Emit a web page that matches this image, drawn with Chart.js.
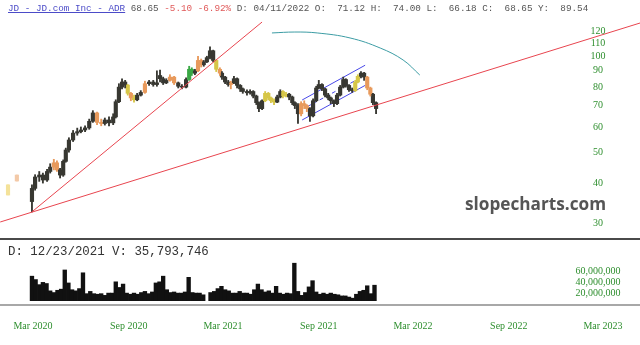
<!DOCTYPE html>
<html>
<head>
<meta charset="utf-8">
<script src="https://cdn.jsdelivr.net/npm/chart.js@4.4.1/dist/chart.umd.min.js"></script>
<style>
  body { margin: 0; background: #fff; }
  #page { position: relative; width: 640px; height: 345px; overflow: hidden; }
  #priceBox { position: absolute; left: 0; top: 0; width: 640px; height: 238px; }
  #volBox { position: absolute; left: 0; top: 242px; width: 640px; height: 103px; }
  .sep { position: absolute; left: 0; width: 640px; }
  #sep1 { top: 238px; height: 2px; background: #4a4a4a; }
  #sep2 { top: 304px; height: 2px; background: #a8a8a8; }
  #head { position: absolute; left: 8px; top: 3px; font: 9.3px "Liberation Mono", monospace; color: #555; white-space: pre; }
  #head .sym { color: #4b4bc8; text-decoration: underline; }
  #head .dn { color: #e05a5a; }
  #volHead { position: absolute; left: 8px; top: 245px; font: 12.4px "Liberation Mono", monospace; color: #333; white-space: pre; }
  #mark { position: absolute; left: 465px; top: 192px; font: bold 17.2px "Open Sans", sans-serif; color: #555; }
</style>
</head>
<body>
<div id="page">
  <div id="priceBox"><canvas id="priceChart"></canvas></div>
  <div id="volBox"><canvas id="volChart"></canvas></div>
  <div class="sep" id="sep1"></div>
  <div class="sep" id="sep2"></div>
  <div id="head"><span class="sym">JD - JD.com Inc - ADR</span> 68.65 <span class="dn">-5.10 -6.92%</span> D: 04/11/2022 O:  71.12 H:  74.00 L:  66.18 C:  68.65 Y:  89.54</div>
  <div id="volHead">D: 12/23/2021 V: 35,793,746</div>
  <div id="mark">slopecharts.com</div>
</div>
<script>
// x values are days counted from 1 Mar 2020
const candleDays = [-48, -31, -2, 4, 12, 19, 27, 33, 40, 46, 52, 58, 63, 69, 77, 85, 92, 100, 108, 115, 123, 131, 138, 146, 154, 159, 165, 171, 177, 182, 188, 194, 200, 207, 215, 223, 231, 238, 244, 250, 256, 263, 271, 279, 286, 294, 300, 305, 311, 317, 323, 328, 334, 340, 346, 352, 359, 363, 369, 375, 380, 386, 392, 398, 403, 411, 417, 423, 429, 434, 440, 446, 452, 457, 463, 469, 475, 480, 486, 492, 498, 503, 509, 515, 521, 526, 532, 538, 544, 549, 555, 561, 567, 572, 578, 584, 590, 596, 601, 607, 613, 619, 624, 630, 636, 642, 648, 653, 659];
const opens = [36.7, 40.6, 35.0, 38.5, 41.8, 42.4, 40.9, 43.5, 44.9, 46.3, 44.0, 42.4, 46.8, 50.8, 54.6, 57.4, 58.0, 58.7, 59.6, 62.5, 66.4, 62.0, 61.5, 63.1, 61.8, 64.5, 72.0, 80.0, 83.0, 81.2, 76.5, 74.0, 73.0, 75.5, 77.0, 82.0, 83.0, 81.5, 87.0, 85.0, 82.5, 84.0, 86.0, 82.5, 80.5, 80.0, 84.5, 91.0, 88.5, 90.0, 97.0, 94.0, 96.0, 99.0, 104.0, 97.0, 91.0, 88.5, 86.0, 83.0, 81.5, 82.5, 85.0, 81.0, 79.0, 77.5, 76.8, 77.5, 75.0, 71.5, 68.5, 72.5, 76.5, 74.0, 72.5, 71.8, 74.5, 77.5, 75.0, 76.0, 74.5, 71.5, 70.0, 66.0, 71.0, 70.0, 68.5, 65.0, 72.5, 79.5, 81.5, 79.0, 75.5, 74.0, 72.5, 71.0, 75.5, 80.0, 84.5, 81.0, 78.5, 78.0, 83.0, 86.5, 88.5, 86.0, 79.5, 76.0, 71.5];
const highs = [39.5, 42.4, 39.5, 42.5, 43.5, 43.0, 44.2, 46.0, 47.5, 47.0, 44.5, 47.3, 51.5, 55.5, 58.5, 59.5, 60.0, 60.5, 63.5, 67.5, 66.8, 63.5, 64.0, 64.5, 66.0, 73.0, 82.0, 85.0, 84.0, 81.5, 77.0, 75.5, 76.5, 78.0, 83.5, 84.0, 84.0, 90.0, 90.5, 86.0, 85.0, 87.5, 86.5, 83.0, 81.5, 85.5, 93.0, 92.0, 91.0, 100.0, 98.0, 97.0, 100.0, 107.0, 104.5, 97.5, 92.0, 89.5, 86.5, 84.0, 83.5, 86.5, 85.5, 81.5, 79.5, 78.5, 78.5, 78.0, 75.5, 72.0, 73.0, 77.5, 77.0, 74.5, 73.5, 75.5, 78.5, 78.0, 77.0, 76.5, 75.0, 72.0, 71.0, 72.0, 72.5, 70.5, 69.0, 73.5, 80.5, 84.0, 82.0, 79.5, 76.5, 74.5, 73.0, 76.5, 81.0, 86.0, 85.0, 81.5, 79.5, 84.0, 87.5, 89.5, 89.0, 86.5, 80.0, 76.5, 72.0];
const lows = [36.7, 40.6, 32.5, 38.0, 40.5, 40.0, 40.5, 43.0, 44.0, 43.5, 41.5, 42.0, 46.5, 50.0, 54.0, 56.5, 57.5, 58.0, 59.0, 62.0, 61.0, 60.5, 60.8, 60.5, 61.0, 64.0, 71.5, 79.0, 79.5, 75.5, 72.5, 71.8, 72.5, 75.0, 76.5, 81.0, 80.5, 80.5, 83.0, 81.5, 82.0, 83.5, 81.5, 79.5, 79.0, 79.5, 84.0, 87.0, 87.5, 89.5, 92.5, 93.0, 95.5, 98.0, 96.0, 89.5, 87.0, 84.5, 82.0, 80.5, 79.0, 82.0, 79.5, 77.5, 76.5, 75.5, 76.0, 74.0, 70.5, 67.0, 68.0, 72.0, 73.0, 71.5, 70.5, 71.5, 74.0, 74.0, 74.5, 73.0, 70.5, 68.5, 61.5, 65.0, 68.5, 67.0, 62.5, 64.5, 72.0, 79.0, 78.0, 74.5, 73.0, 71.0, 69.5, 70.5, 75.0, 79.5, 80.0, 77.5, 77.0, 77.5, 82.5, 85.5, 84.0, 78.5, 75.0, 70.5, 66.0];
const closes = [39.5, 42.4, 38.5, 41.8, 42.4, 40.9, 43.5, 44.9, 46.3, 44.0, 42.4, 46.8, 50.8, 54.6, 57.4, 58.0, 58.7, 59.6, 62.5, 66.4, 62.0, 61.5, 63.1, 61.8, 64.5, 72.0, 80.0, 83.0, 81.2, 76.5, 74.0, 73.0, 75.5, 77.0, 82.0, 83.0, 81.5, 82.5, 85.0, 82.5, 84.0, 86.0, 82.5, 80.5, 80.0, 84.5, 91.0, 88.5, 90.0, 97.0, 94.0, 96.0, 99.0, 104.0, 97.0, 91.0, 88.5, 86.0, 83.0, 81.5, 82.5, 85.0, 81.0, 79.0, 77.5, 76.8, 77.5, 75.0, 71.5, 68.5, 72.5, 76.5, 74.0, 72.5, 71.8, 74.5, 77.5, 75.0, 76.0, 74.5, 71.5, 70.0, 66.0, 71.0, 70.0, 68.5, 65.0, 72.5, 79.5, 81.5, 79.0, 75.5, 74.0, 72.5, 71.0, 75.5, 80.0, 84.5, 81.0, 78.5, 78.0, 83.0, 86.5, 88.5, 86.0, 79.5, 76.0, 71.5, 68.5];
// indicator tone of each candle: k plain, o orange, y yellow, g green, p/q faded
const signal = ["q", "p", "k", "k", "k", "k", "k", "k", "o", "o", "k", "k", "k", "k", "k", "k", "k", "k", "k", "k", "o", "o", "k", "k", "k", "k", "k", "k", "k", "y", "o", "y", "k", "k", "o", "k", "k", "k", "k", "k", "k", "o", "o", "k", "k", "k", "g", "g", "k", "o", "o", "k", "k", "k", "k", "y", "o", "k", "k", "k", "o", "k", "k", "k", "k", "k", "k", "k", "k", "k", "k", "y", "y", "y", "y", "k", "k", "y", "y", "k", "k", "k", "k", "o", "o", "o", "k", "k", "k", "k", "k", "k", "k", "k", "k", "k", "k", "k", "k", "k", "k", "y", "y", "k", "k", "o", "o", "k", "k"];

const volDays = [-2, 5, 12, 19, 26, 33, 40, 47, 54, 61, 68, 75, 82, 89, 96, 103, 110, 117, 124, 131, 138, 145, 152, 159, 166, 173, 180, 187, 194, 201, 208, 215, 222, 229, 236, 243, 250, 257, 264, 271, 278, 285, 292, 299, 306, 313, 320, 327, 334, 341, 348, 355, 362, 369, 376, 383, 390, 397, 404, 411, 418, 425, 432, 439, 446, 453, 460, 467, 474, 481, 488, 495, 502, 509, 516, 523, 530, 537, 544, 551, 558, 565, 572, 579, 586, 593, 600, 607, 614, 621, 628, 635, 642, 649, 656];
// weekly volume, millions of shares
const volumes = [44, 38, 29, 33, 31, 18, 15, 19, 21, 55, 32, 20, 18, 22, 50, 13, 17, 13, 12, 13, 10, 14, 14, 34, 24, 30, 14, 12, 14, 12, 15, 17, 13, 16, 32, 34, 44, 20, 15, 16, 14, 14, 16, 42, 15, 14, 14, 11, null, 15, 17, 22, 26, 20, 18, 14, 14, 17, 14, 14, 12, 20, 30, 20, 16, 18, 14, 26, 14, 12, 14, 13, 67, 17, 10, 15, 25, 36, 16, 12, 14, 12, 14, 12, 11, 9, 9, 7, 5, 12, 17, 19, 27, 13, 28];

const priceTicks = [30, 40, 50, 60, 70, 80, 90, 100, 110, 120];
const volumeTicks = [20, 40, 60];
const monthTicks = [0, 184, 365, 549, 730, 914, 1095];
const monthLabels = ["Mar 2020", "Sep 2020", "Mar 2021", "Sep 2021", "Mar 2022", "Sep 2022", "Mar 2023"];

// drawn studies: [day, price] end points
const supportLong = [[-63, 30.2], [1166, 127.1]];
const supportSteep = [[-2, 32.5], [440, 128]];
const channelTop = [[517, 72.9], [638, 93.7]];
const channelMid = [[527, 69.5], [636, 86.8]];
const channelLow = [[517, 63.1], [638, 81.0]];
const arc = [[459, 118.3], [503, 119.1], [546, 118.3], [609, 114.1], [667, 106.1], [711, 97.3], [743, 87.3]];

const toneColors = { k: "#383832", o: "#e89a5c", y: "#d6c648", g: "#3aa845", p: "#f3c9a8", q: "#f4e29a" };
const X_MIN = -63.4, X_MAX = 1166;

const sideLabels = {
    id: "sideLabels",
    afterDraw(chart, args, opts) {
        const ctx = chart.ctx;
        const scale = chart.scales.y;
        ctx.save();
        ctx.font = opts.font;
        ctx.fillStyle = opts.color;
        ctx.textAlign = "center";
        ctx.textBaseline = "middle";
        opts.values.forEach((v) => {
            ctx.fillText(opts.format(v), opts.x, scale.getPixelForValue(v) + (opts.dy || 0));
        });
        ctx.restore();
    },
};

function toPoints(pairs) {
    return pairs.map((p) => ({ x: p[0], y: p[1] }));
}

function studyLine(pairs, color, extra = {}) {
    return Object.assign({
        type: "line",
        data: toPoints(pairs),
        borderColor: color,
        borderWidth: 1,
        pointRadius: 0,
        fill: false,
    }, extra);
}

const tones = signal.map((s) => toneColors[s]);

new Chart(document.getElementById("priceChart").getContext("2d"), {
    data: {
        datasets: [
            studyLine(supportLong, "#e8454f"),
            studyLine(supportSteep, "#e8454f"),
            studyLine(arc, "#3c9ca4", { tension: 0.4 }),
            {
                type: "bar",
                data: candleDays.map((d, i) => ({ x: d, y: [lows[i], highs[i]] })),
                backgroundColor: tones,
                barThickness: 1.2,
                grouped: false,
            },
            {
                type: "bar",
                data: candleDays.map((d, i) => ({ x: d, y: [opens[i], closes[i]] })),
                backgroundColor: tones,
                borderColor: tones,
                borderWidth: 0,
                barThickness: 3.5,
                grouped: false,
            },
            studyLine(channelTop, "#4848e8"),
            studyLine(channelMid, "#4848e8", { borderDash: [4, 3] }),
            studyLine(channelLow, "#4848e8"),
        ],
    },
    options: {
        responsive: true,
        maintainAspectRatio: false,
        animation: false,
        layout: { padding: { top: 20, bottom: 1, left: 0, right: 0 } },
        plugins: {
            legend: { display: false },
            tooltip: { enabled: false },
            sideLabels: {
                values: priceTicks,
                x: 598,
                font: "10px 'Liberation Serif', serif",
                color: "#2f8f2f",
                format: (v) => String(v),
            },
        },
        scales: {
            x: { type: "linear", min: X_MIN, max: X_MAX, offset: false, display: false },
            y: { type: "logarithmic", min: 27.1, max: 129.9, display: false },
        },
    },
    plugins: [sideLabels],
});

new Chart(document.getElementById("volChart").getContext("2d"), {
    type: "bar",
    data: {
        datasets: [
            {
                data: volDays.map((d, i) => ({ x: d, y: volumes[i] })),
                backgroundColor: "#111",
                barThickness: 3.7,
            },
        ],
    },
    options: {
        responsive: true,
        maintainAspectRatio: false,
        animation: false,
        layout: { padding: { top: 15, bottom: 0, left: 0, right: 0 } },
        plugins: {
            legend: { display: false },
            tooltip: { enabled: false },
            sideLabels: {
                values: volumeTicks,
                x: 598,
                dy: 4,
                font: "10px 'Liberation Serif', serif",
                color: "#2f8f2f",
                format: (v) => (v * 1000000).toLocaleString("en-US"),
            },
        },
        scales: {
            x: {
                type: "linear",
                min: X_MIN,
                max: X_MAX,
                offset: false,
                afterBuildTicks: (axis) => {
                    axis.ticks = monthTicks.map((v) => ({ value: v }));
                },
                afterFit: (axis) => {
                    axis.paddingLeft = 0;
                    axis.paddingRight = 0;
                },
                grid: { display: false, drawTicks: false },
                border: { display: false },
                ticks: {
                    padding: 19,
                    maxRotation: 0,
                    autoSkip: false,
                    color: "#2f8f2f",
                    font: { family: "'Liberation Serif', serif", size: 10 },
                    callback: (value) => monthLabels[monthTicks.indexOf(value)],
                },
            },
            y: { min: 0, max: 78, display: false },
        },
    },
    plugins: [sideLabels],
});
</script>
</body>
</html>
